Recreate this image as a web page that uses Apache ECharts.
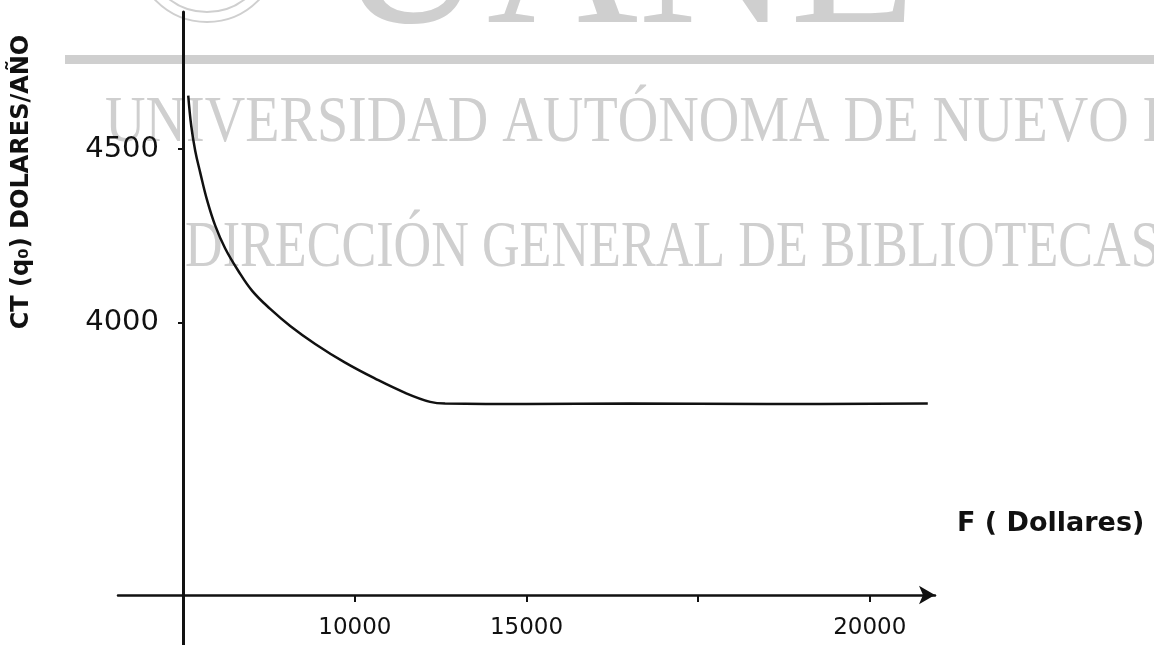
<!DOCTYPE html>
<html>
<head>
<meta charset="utf-8">
<title>CT (q0) vs F</title>
<script src="https://cdn.jsdelivr.net/npm/echarts@6/dist/echarts.min.js"></script>
<style>
  html, body { margin: 0; padding: 0; background: #fff; }
  #chart { width: 1154px; height: 645px; }
</style>
</head>
<body>
<div id="chart"></div>
<script>
// curve: F (dollars) and CT(q0) (dolares/año)
var fValues = [5146, 5233, 5349, 5495, 5699, 5932, 6223, 6602, 7009, 7534, 8116, 8844, 9718, 10591, 11465, 12193, 12630, 15000, 18000, 22000, 26690];
var ctValues = [4654, 4567, 4495, 4432, 4351, 4279, 4213, 4149, 4091, 4039, 3990, 3938, 3884, 3838, 3797, 3771, 3766, 3765, 3766, 3765, 3766];

// ticks as drawn on the original (the last one is printed "20000")
var xTickValues = [10000, 15000, 20000, 25000];
var xTickLabels = ['10000', '15000', '', '20000'];
var yTickValues = [4000, 4500];
var yTickLabels = ['4000', '4500'];

var ink = '#111';
var wm = '#cfcfcf';

var chart = echarts.init(document.getElementById('chart'));

chart.setOption({
  backgroundColor: '#fff',
  animation: false,
  grid: { left: 118, right: 219, top: 12, bottom: 0, containLabel: false, outerBoundsMode: 'none' },
  xAxis: {
    type: 'value',
    min: 3100,
    max: 26900,
    offset: -50,
    splitLine: { show: false },
    axisLine: {
      onZero: false,
      symbol: ['none', 'arrow'],
      symbolSize: [14, 16],
      lineStyle: { color: ink, width: 2.5 }
    },
    axisTick: { customValues: xTickValues, length: 7, lineStyle: { color: ink, width: 2 } },
    axisLabel: {
      customValues: xTickValues,
      margin: 22,
      color: ink,
      fontFamily: 'DejaVu Sans',
      fontSize: 23,
      formatter: function (v) {
        var i = xTickValues.indexOf(v);
        return i >= 0 ? xTickLabels[i] : '';
      }
    }
  },
  yAxis: {
    type: 'value',
    min: 3070,
    max: 4895,
    offset: -65,
    splitLine: { show: false },
    axisLine: { show: true, onZero: false, lineStyle: { color: ink, width: 3 } },
    axisTick: { customValues: yTickValues, length: 5, lineStyle: { color: ink, width: 2 } },
    axisLabel: {
      customValues: yTickValues,
      margin: 24,
      color: ink,
      fontFamily: 'DejaVu Sans',
      fontSize: 29,
      padding: [0, 0, 8, 0],
      formatter: function (v) {
        var i = yTickValues.indexOf(v);
        return i >= 0 ? yTickLabels[i] : '';
      }
    }
  },
  graphic: [
    // library watermark behind the plot
    { type: 'rect', silent: true, z: 0, shape: { x: 65, y: 55, width: 1089, height: 9 }, style: { fill: wm } },
    { type: 'circle', silent: true, z: 0, shape: { cx: 207, cy: -50, r: 72 }, style: { fill: 'none', stroke: wm, lineWidth: 2 } },
    { type: 'circle', silent: true, z: 0, shape: { cx: 207, cy: -50, r: 62 }, style: { fill: 'none', stroke: wm, lineWidth: 2 } },
    { type: 'text', silent: true, z: 0, x: 335, y: 72, style: { text: 'UANL', fill: wm, font: '210px "Liberation Serif"', textVerticalAlign: 'bottom' } },
    { type: 'text', silent: true, z: 0, x: 105, y: 157, scaleX: 0.85, style: { text: 'UNIVERSIDAD AUTÓNOMA DE NUEVO LEÓN', fill: wm, font: '66px "Liberation Serif"', textVerticalAlign: 'bottom' } },
    { type: 'text', silent: true, z: 0, x: 185, y: 282, scaleX: 0.79, style: { text: 'DIRECCIÓN GENERAL DE BIBLIOTECAS', fill: wm, font: '66px "Liberation Serif"', textVerticalAlign: 'bottom' } },
    // axis titles
    { type: 'text', z: 5, x: 22, y: 182, rotation: Math.PI / 2, style: { text: 'CT (q₀) DOLARES/AÑO', fill: ink, font: 'bold 24px "DejaVu Sans"', textAlign: 'center', textVerticalAlign: 'middle' } },
    { type: 'text', z: 5, x: 957, y: 524, style: { text: 'F ( Dollares)', fill: ink, font: 'bold 27px "DejaVu Sans"', textAlign: 'left', textVerticalAlign: 'middle' } }
  ],
  series: [
    {
      type: 'line',
      z: 3,
      smooth: 0.4,
      showSymbol: false,
      lineStyle: { color: ink, width: 2.5 },
      data: fValues.map(function (f, i) { return [f, ctValues[i]]; })
    }
  ]
});
</script>
</body>
</html>
